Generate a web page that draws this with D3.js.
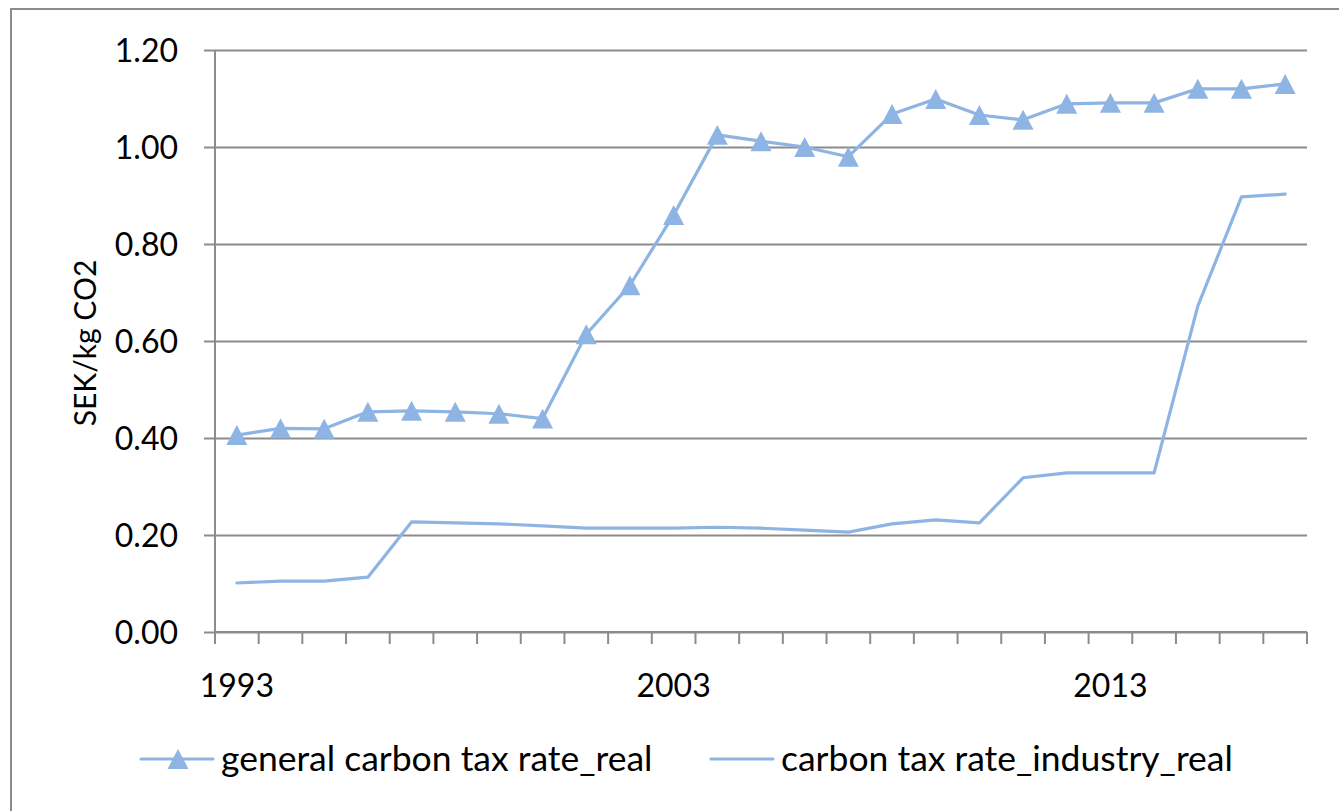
<!DOCTYPE html>
<html>
<head>
<meta charset="utf-8">
<script src="https://cdn.jsdelivr.net/npm/d3@7"></script>
<style>
  html, body { margin: 0; padding: 0; background: #fff; }
  svg { display: block; }
  text { font-family: Lato, "Open Sans", sans-serif; fill: #000; }
</style>
</head>
<body>
<svg id="chart" width="1339" height="811"></svg>
<script>
// Years on the category axis
const years = [1993, 1994, 1995, 1996, 1997, 1998, 1999, 2000, 2001, 2002,
               2003, 2004, 2005, 2006, 2007, 2008, 2009, 2010, 2011, 2012,
               2013, 2014, 2015, 2016, 2017];

// SEK per kg CO2, real terms
const generalRate = [0.406, 0.420, 0.419, 0.454, 0.456, 0.454, 0.450, 0.440, 0.614, 0.715,
                     0.860, 1.025, 1.012, 1.000, 0.980, 1.068, 1.099, 1.066, 1.056, 1.089,
                     1.091, 1.091, 1.120, 1.120, 1.130];
const industryRate = [0.101, 0.105, 0.105, 0.113, 0.227, 0.225, 0.223, 0.219, 0.214, 0.214,
                      0.214, 0.216, 0.214, 0.210, 0.206, 0.223, 0.231, 0.225, 0.318, 0.328,
                      0.328, 0.328, 0.672, 0.897, 0.903];

const yTicks = [0, 0.2, 0.4, 0.6, 0.8, 1.0, 1.2];
const xLabelYears = [1993, 2003, 2013];
const seriesNames = ["general carbon tax rate_real", "carbon tax rate_industry_real"];

const lineColor = "#8eb4e3";
const gridColor = "#8c8c8c";

const svg = d3.select("#chart");

// Outer chart frame
svg.append("rect")
  .attr("x", 11).attr("y", 9)
  .attr("width", 1339).attr("height", 820)
  .attr("fill", "none")
  .attr("stroke", gridColor)
  .attr("stroke-width", 2);

const plot = { left: 215, right: 1307, top: 50, bottom: 632 };

const x = d3.scaleBand().domain(years).range([plot.left, plot.right]).padding(0);
const y = d3.scaleLinear().domain([0, 1.2]).range([plot.bottom, plot.top]);
const cx = d => x(d) + x.bandwidth() / 2;

// Horizontal gridlines with short tick stubs to the left of the axis
const yAxis = d3.axisLeft(y)
  .tickValues(yTicks)
  .tickSize(-(plot.right - plot.left))
  .tickSizeOuter(0)
  .tickPadding(26)
  .tickFormat(d3.format(".2f"));

const gy = svg.append("g")
  .attr("transform", `translate(${plot.left},0)`)
  .call(yAxis);
gy.select(".domain").remove();
gy.selectAll(".tick line")
  .attr("x1", -11)
  .attr("stroke", gridColor)
  .attr("stroke-width", 2);
gy.selectAll(".tick text")
  .attr("x", -37)
  .style("font-size", "32px")
  .attr("dy", "0.36em");

// Vertical axis line
svg.append("line")
  .attr("x1", plot.left).attr("x2", plot.left)
  .attr("y1", plot.top).attr("y2", plot.bottom)
  .attr("stroke", gridColor).attr("stroke-width", 2);

// Category axis: tick marks at band boundaries
const boundaries = years.map(d => x(d)).concat([plot.right]);
const gx = svg.append("g");
gx.append("line")
  .attr("x1", plot.left).attr("x2", plot.right)
  .attr("y1", plot.bottom).attr("y2", plot.bottom)
  .attr("stroke", gridColor).attr("stroke-width", 2);
gx.selectAll("line.tick")
  .data(boundaries)
  .join("line")
  .attr("class", "tick")
  .attr("x1", d => d).attr("x2", d => d)
  .attr("y1", plot.bottom).attr("y2", plot.bottom + 12)
  .attr("stroke", gridColor).attr("stroke-width", 2);
gx.selectAll("text")
  .data(xLabelYears)
  .join("text")
  .attr("x", d => cx(d))
  .attr("y", 697)
  .attr("text-anchor", "middle")
  .style("font-size", "32px")
  .text(d => d);

// Y axis title
svg.append("text")
  .attr("transform", `translate(96,${(plot.top + plot.bottom) / 2 + 2}) rotate(-90)`)
  .attr("text-anchor", "middle")
  .style("font-size", "30px")
  .text("SEK/kg CO2");

// Triangle marker centred on its bounding box
const triangle = {
  draw(ctx, size) {
    const w = Math.sqrt(size);
    const h = w * 0.95;
    ctx.moveTo(0, -h / 2);
    ctx.lineTo(w / 2, h / 2);
    ctx.lineTo(-w / 2, h / 2);
    ctx.closePath();
  }
};
const marker = d3.symbol().type(triangle).size(21 * 21);

const line = d3.line()
  .x(d => cx(d.year))
  .y(d => y(d.value));

const industryData = years.map((yr, i) => ({ year: yr, value: industryRate[i] }));
const generalData = years.map((yr, i) => ({ year: yr, value: generalRate[i] }));

svg.append("path")
  .datum(industryData)
  .attr("d", line)
  .attr("fill", "none")
  .attr("stroke", lineColor)
  .attr("stroke-width", 3.2)
  .attr("stroke-linejoin", "round")
  .attr("stroke-linecap", "round");

svg.append("path")
  .datum(generalData)
  .attr("d", line)
  .attr("fill", "none")
  .attr("stroke", lineColor)
  .attr("stroke-width", 3.2)
  .attr("stroke-linejoin", "round")
  .attr("stroke-linecap", "round");

svg.append("g")
  .selectAll("path")
  .data(generalData)
  .join("path")
  .attr("d", marker)
  .attr("transform", d => `translate(${cx(d.year)},${y(d.value)})`)
  .attr("fill", lineColor);

// Legend
const legendY = 759;
const legend = svg.append("g");

legend.append("line")
  .attr("x1", 141).attr("x2", 213)
  .attr("y1", legendY).attr("y2", legendY)
  .attr("stroke", lineColor).attr("stroke-width", 3.2)
  .attr("stroke-linecap", "round");
legend.append("path")
  .attr("d", marker)
  .attr("transform", `translate(178,${legendY})`)
  .attr("fill", lineColor);
legend.append("text")
  .attr("x", 221).attr("y", legendY + 12)
  .style("font-size", "35.5px")
  .text(seriesNames[0]);

legend.append("line")
  .attr("x1", 711).attr("x2", 773)
  .attr("y1", legendY).attr("y2", legendY)
  .attr("stroke", lineColor).attr("stroke-width", 3.2)
  .attr("stroke-linecap", "round");
legend.append("text")
  .attr("x", 781).attr("y", legendY + 12)
  .style("font-size", "35.5px")
  .text(seriesNames[1]);
</script>
</body>
</html>
